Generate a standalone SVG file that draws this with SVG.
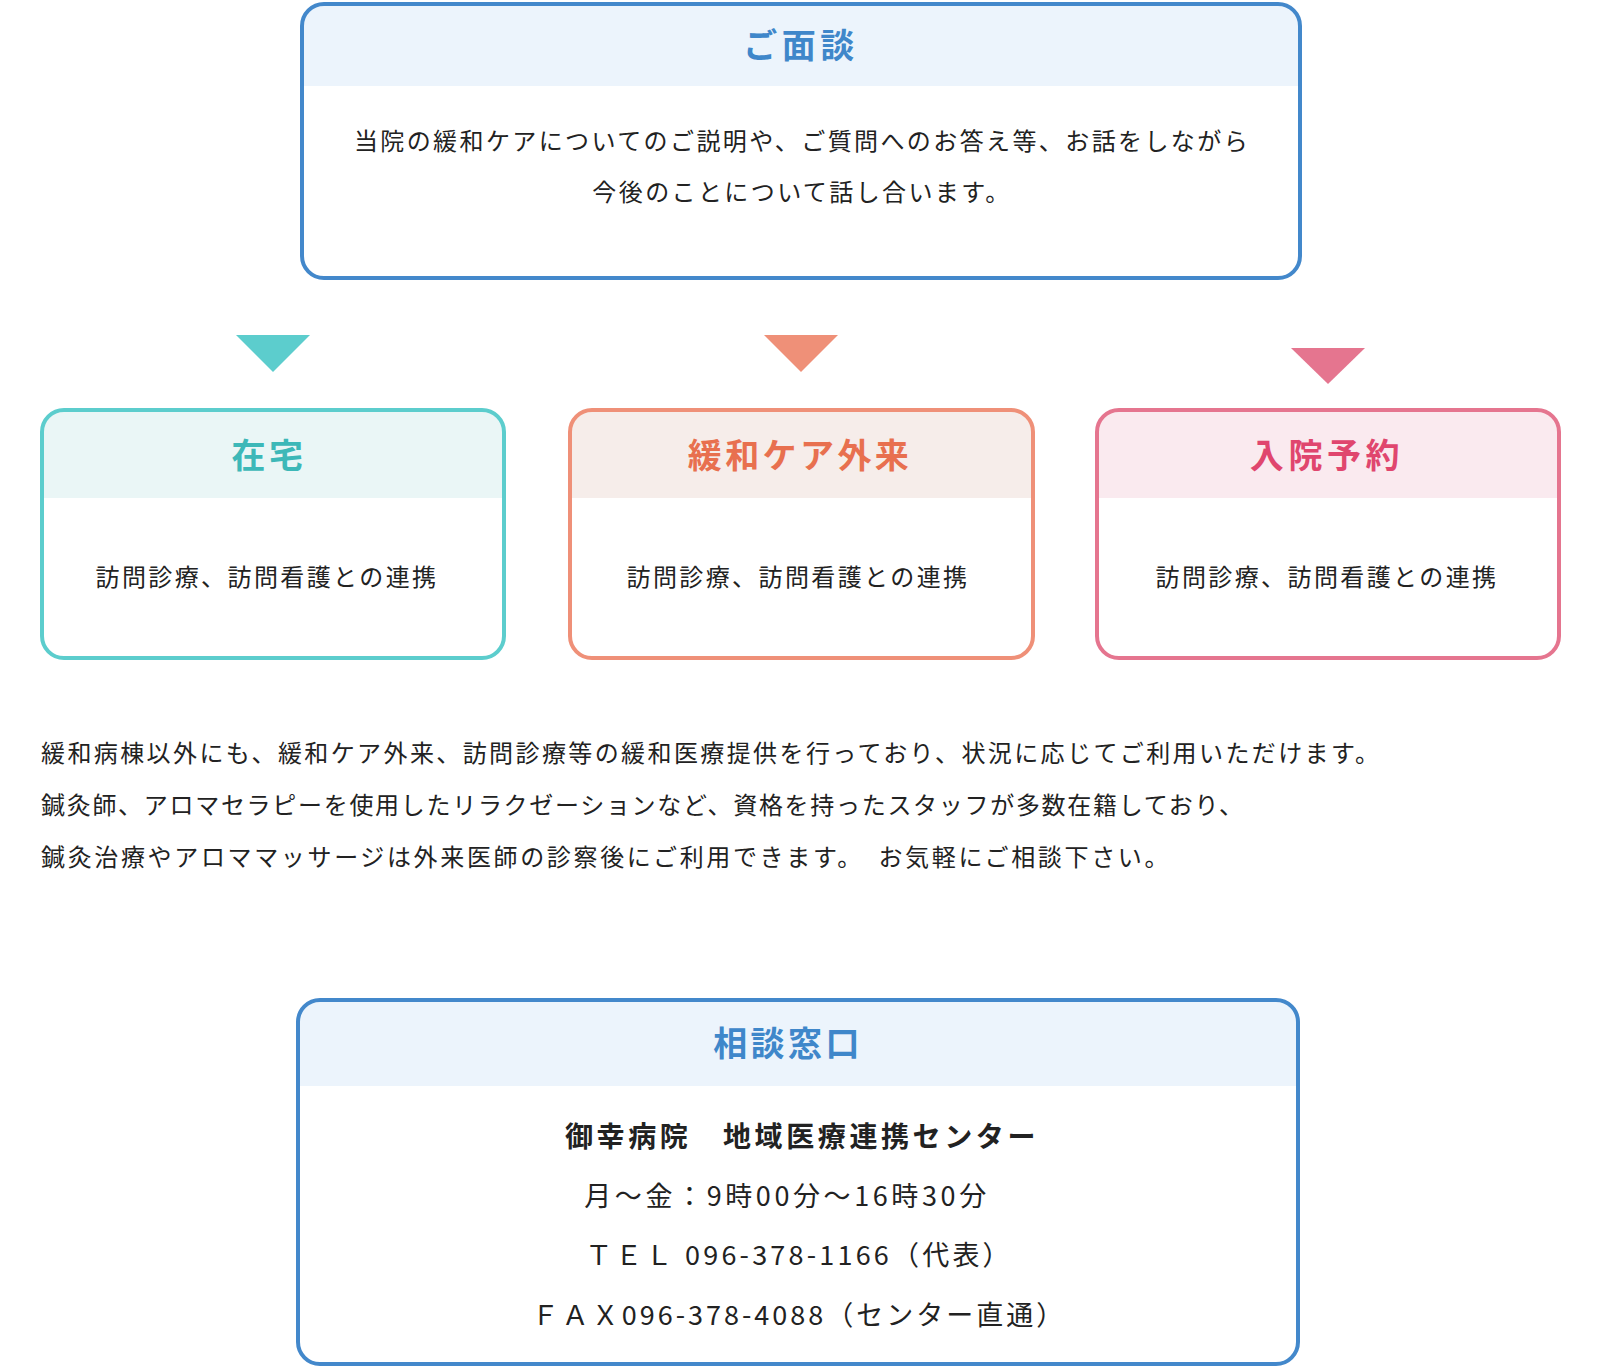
<svg xmlns="http://www.w3.org/2000/svg" width="1600" height="1370" viewBox="0 0 1600 1370">
<style>
text{font-family:"Noto Sans CJK JP","Noto Sans CJK SC",sans-serif;}
.body{font-size:24px;letter-spacing:2.4px;fill:#222;}
.ttl{font-size:34px;font-weight:700;letter-spacing:3.4px;text-anchor:middle;}
.c{text-anchor:middle;}
.box{fill:none;stroke-width:4;}
</style>
<rect width="1600" height="1370" fill="#fff"/>

<g id="menDan">
<rect x="302" y="4" width="998" height="274" rx="22" fill="#fff"/>
<path d="M302,86 V26 A22,22 0 0 1 324,4 H1278 A22,22 0 0 1 1300,26 V86 Z" fill="#ECF4FC"/>
<rect class="box" x="302" y="4" width="998" height="274" rx="22" stroke="#4388CB"/>
<text class="ttl" x="801" y="58" fill="#3F87CA" style="letter-spacing:4.5px">ご面談</text>
<text class="body c" x="802" y="150">当院の緩和ケアについてのご説明や、ご質問へのお答え等、お話をしながら</text>
<text class="body c" x="802" y="201">今後のことについて話し合います。</text>
</g>

<g id="connectors">
<polygon points="236,335 310,335 273,372" fill="#5CCDCD"/>
<polygon points="764,335 838,335 801,372" fill="#EF9078"/>
<polygon points="1291,348 1365,348 1328,384" fill="#E5758F"/>
</g>

<g id="zaitaku">
<rect x="42" y="410" width="462" height="248" rx="22" fill="#fff"/>
<path d="M42,498 V432 A22,22 0 0 1 64,410 H482 A22,22 0 0 1 504,432 V498 Z" fill="#EAF6F6"/>
<rect class="box" x="42" y="410" width="462" height="248" rx="22" stroke="#5CCDCD"/>
<text class="ttl" x="269" y="468" fill="#3DB8B8">在宅</text>
<text class="body c" x="267" y="586">訪問診療、訪問看護との連携</text>
</g>

<g id="gairai">
<rect x="570" y="410" width="463" height="248" rx="22" fill="#fff"/>
<path d="M570,498 V432 A22,22 0 0 1 592,410 H1011 A22,22 0 0 1 1033,432 V498 Z" fill="#F6EDEA"/>
<rect class="box" x="570" y="410" width="463" height="248" rx="22" stroke="#EF9078"/>
<text class="ttl" x="800" y="468" fill="#E8704F">緩和ケア外来</text>
<text class="body c" x="798" y="586">訪問診療、訪問看護との連携</text>
</g>

<g id="nyuin">
<rect x="1097" y="410" width="462" height="248" rx="22" fill="#fff"/>
<path d="M1097,498 V432 A22,22 0 0 1 1119,410 H1537 A22,22 0 0 1 1559,432 V498 Z" fill="#FAEAEF"/>
<rect class="box" x="1097" y="410" width="462" height="248" rx="22" stroke="#E5758F"/>
<text class="ttl" x="1327" y="468" fill="#E0466E" style="letter-spacing:4.6px">入院予約</text>
<text class="body c" x="1327" y="586">訪問診療、訪問看護との連携</text>
</g>

<g id="paragraph">
<text class="body" x="41" y="762">緩和病棟以外にも、緩和ケア外来、訪問診療等の緩和医療提供を行っており、状況に応じてご利用いただけます。</text>
<text class="body" x="41" y="814" style="letter-spacing:1.7px">鍼灸師、アロマセラピーを使用したリラクゼーションなど、資格を持ったスタッフが多数在籍しており、</text>
<text class="body" x="41" y="866" style="letter-spacing:2.65px">鍼灸治療やアロママッサージは外来医師の診察後にご利用できます。　お気軽にご相談下さい。</text>
</g>

<g id="soudan">
<rect x="298" y="1000" width="1000" height="364" rx="22" fill="#fff"/>
<path d="M298,1086 V1022 A22,22 0 0 1 320,1000 H1276 A22,22 0 0 1 1298,1022 V1086 Z" fill="#ECF4FC"/>
<rect class="box" x="298" y="1000" width="1000" height="364" rx="22" stroke="#4388CB"/>
<text class="ttl" x="788" y="1056" fill="#3F87CA">相談窓口</text>
<text class="c" x="802" y="1147" font-size="28" font-weight="700" letter-spacing="3.6" fill="#222">御幸病院　地域医療連携センター</text>
<text class="c" x="787" y="1206" font-size="27" letter-spacing="3.6" fill="#222">月～金：9時00分～16時30分</text>
<text class="c" x="799" y="1265" font-size="27" letter-spacing="3.2" fill="#222">ＴＥＬ 096-378-1166（代表）</text>
<text class="c" x="799" y="1325" font-size="27" letter-spacing="3.0" fill="#222">ＦＡＸ096-378-4088（センター直通）</text>
</g>
</svg>
